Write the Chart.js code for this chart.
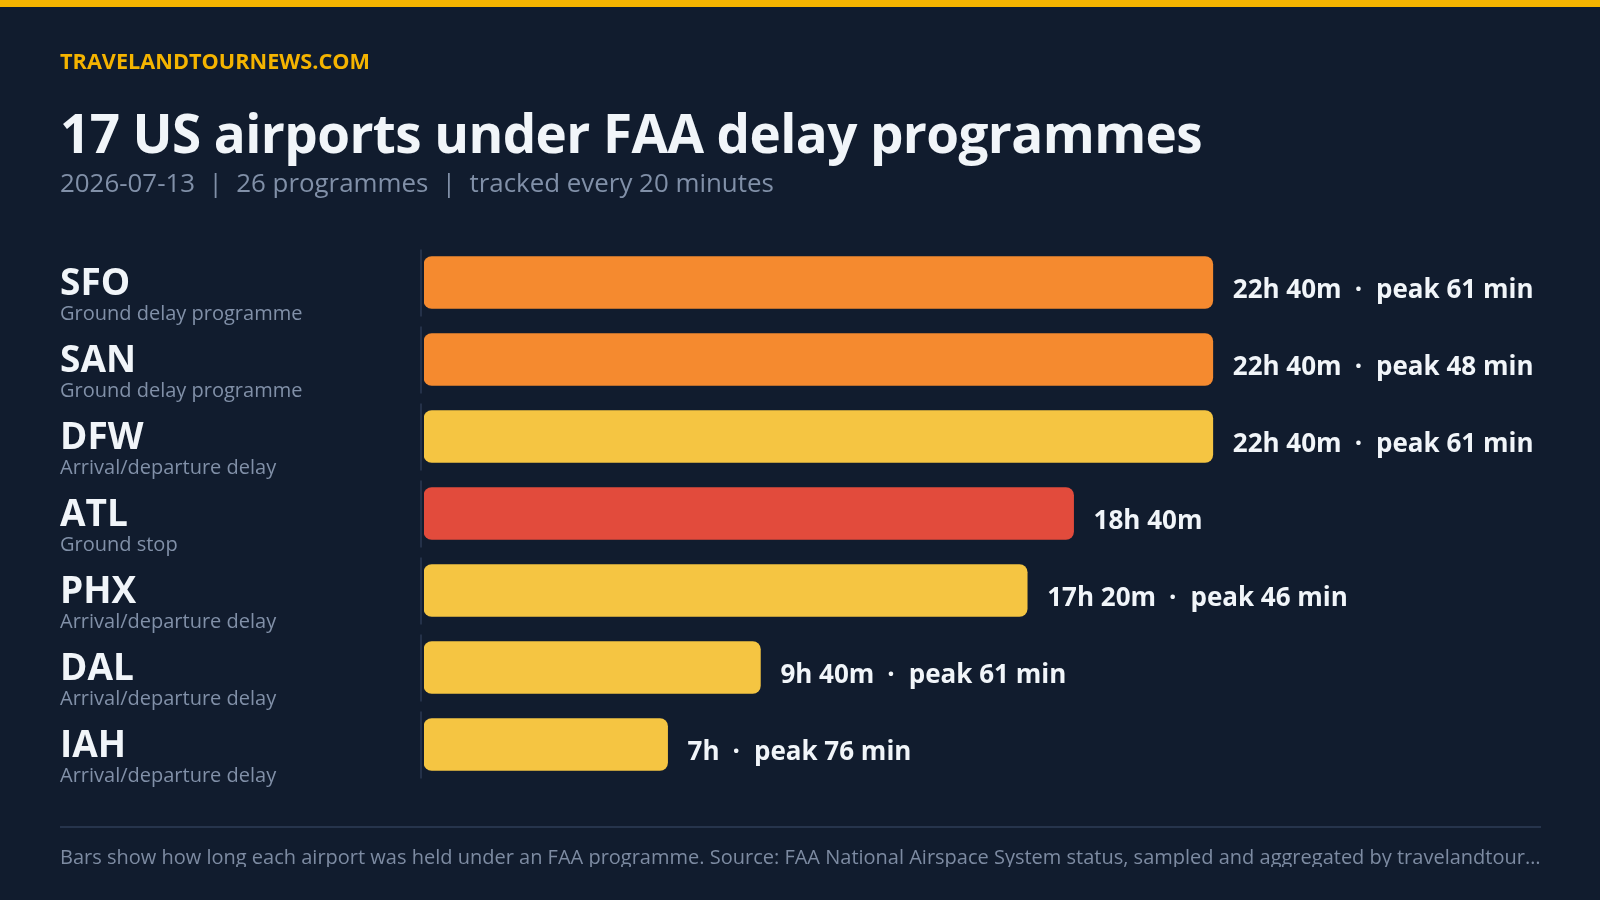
<!DOCTYPE html>
<html>
<head>
<meta charset="utf-8">
<script src="https://cdn.jsdelivr.net/npm/chart.js@4.4.1/dist/chart.umd.min.js"></script>
<style>
  html, body { margin: 0; padding: 0; }
  body {
    width: 1600px; height: 900px; overflow: hidden; position: relative;
    background: #111c2e; font-family: "Open Sans", sans-serif;
  }
  .stripe { position: absolute; left: 0; top: 0; width: 1600px; height: 7px; background: #f5b400; }
  .brand { position: absolute; left: 60px; top: 50px; font-size: 21.7px; line-height: 1; font-weight: 700; color: #f5b400; }
  .title { position: absolute; left: 60px; top: 106px; font-size: 53px; line-height: 1; font-weight: 700; color: #f1f5f9;
           letter-spacing: -0.6px; white-space: nowrap; }
  .sub { position: absolute; left: 60px; top: 170px; font-size: 25.9px; line-height: 1; color: #8190a8; white-space: pre; }
  .rule { position: absolute; left: 60px; top: 826px; width: 1481px; height: 2px; background: #26344c; }
  .foot { position: absolute; left: 60px; top: 847px; width: 1481px; font-size: 20px; line-height: 1; color: #7d8ba2;
          white-space: nowrap; overflow: hidden; text-overflow: ellipsis; }
  #wrap { position: absolute; left: 0; top: 0; width: 1600px; height: 900px; }
</style>
</head>
<body>
<div id="wrap"><canvas id="delayChart"></canvas></div>
<div class="stripe"></div>
<div class="brand">TRAVELANDTOURNEWS.COM</div>
<div class="title">17 US airports under FAA delay programmes</div>
<div class="sub">2026-07-13  |  26 programmes  |  tracked every 20 minutes</div>
<div class="rule"></div>
<div class="foot">Bars show how long each airport was held under an FAA programme. Source: FAA National Airspace System status, sampled and aggregated by travelandtournews.com</div>

<script>
// airports, programme type, minutes under programme, peak delay (min)
const airports = ['SFO', 'SAN', 'DFW', 'ATL', 'PHX', 'DAL', 'IAH'];
const programmeTypes = ['Ground delay programme', 'Ground delay programme', 'Arrival/departure delay', 'Ground stop',
  'Arrival/departure delay', 'Arrival/departure delay', 'Arrival/departure delay'];
const minutesHeld = [1360, 1360, 1360, 1120, 1040, 580, 420];
const peakDelay = [61, 48, 61, null, 46, 61, 76];

const typeColors = {
  'Ground delay programme': '#f58a2f',
  'Arrival/departure delay': '#f5c542',
  'Ground stop': '#e24b3c'
};

function fmtDuration(m) {
  const h = Math.floor(m / 60), r = m % 60;
  return r ? h + 'h ' + r + 'm' : h + 'h';
}

const rowLabels = {
  id: 'rowLabels',
  afterDatasetsDraw(chart) {
    const ctx = chart.ctx;
    const y = chart.scales.y;
    const meta = chart.getDatasetMeta(0);
    ctx.save();
    airports.forEach((code, i) => {
      const cy = y.getPixelForValue(i);
      // divider segment
      ctx.fillStyle = '#243149';
      ctx.fillRect(420, cy - 33, 2, 67);
      // airport code + programme type
      ctx.textBaseline = 'alphabetic';
      ctx.textAlign = 'left';
      ctx.fillStyle = '#f1f5f9';
      ctx.font = '700 37px "Open Sans"';
      ctx.fillText(code, 60, cy + 12.5);
      ctx.fillStyle = '#8190a8';
      ctx.font = '400 20px "Open Sans"';
      ctx.fillText(programmeTypes[i], 60, cy + 37);
      // value label
      const bar = meta.data[i];
      let x = bar.x + 20;
      ctx.fillStyle = '#f1f5f9';
      ctx.font = '700 26px "Open Sans"';
      const dur = fmtDuration(minutesHeld[i]);
      ctx.fillText(dur, x, cy + 15);
      if (peakDelay[i] != null) {
        x += ctx.measureText(dur).width + 13;
        ctx.fillText('·', x, cy + 15);
        x += ctx.measureText('·').width + 14;
        ctx.fillText('peak ' + peakDelay[i] + ' min', x, cy + 15);
      }
    });
    ctx.restore();
  }
};

const ctx = document.getElementById('delayChart').getContext('2d');
new Chart(ctx, {
  type: 'bar',
  data: {
    labels: airports,
    datasets: [{
      data: minutesHeld,
      backgroundColor: programmeTypes.map(t => typeColors[t]),
      borderRadius: 8,
      borderSkipped: false,
      barThickness: 52
    }]
  },
  options: {
    indexAxis: 'y',
    responsive: true,
    maintainAspectRatio: false,
    animation: false,
    layout: { padding: { left: 424, right: 16, top: 244, bottom: 117 } },
    plugins: { legend: { display: false }, tooltip: { enabled: false } },
    scales: {
      x: { display: false, min: 0, max: 2000 },
      y: { display: false }
    }
  },
  plugins: [rowLabels]
});
</script>
</body>
</html>
